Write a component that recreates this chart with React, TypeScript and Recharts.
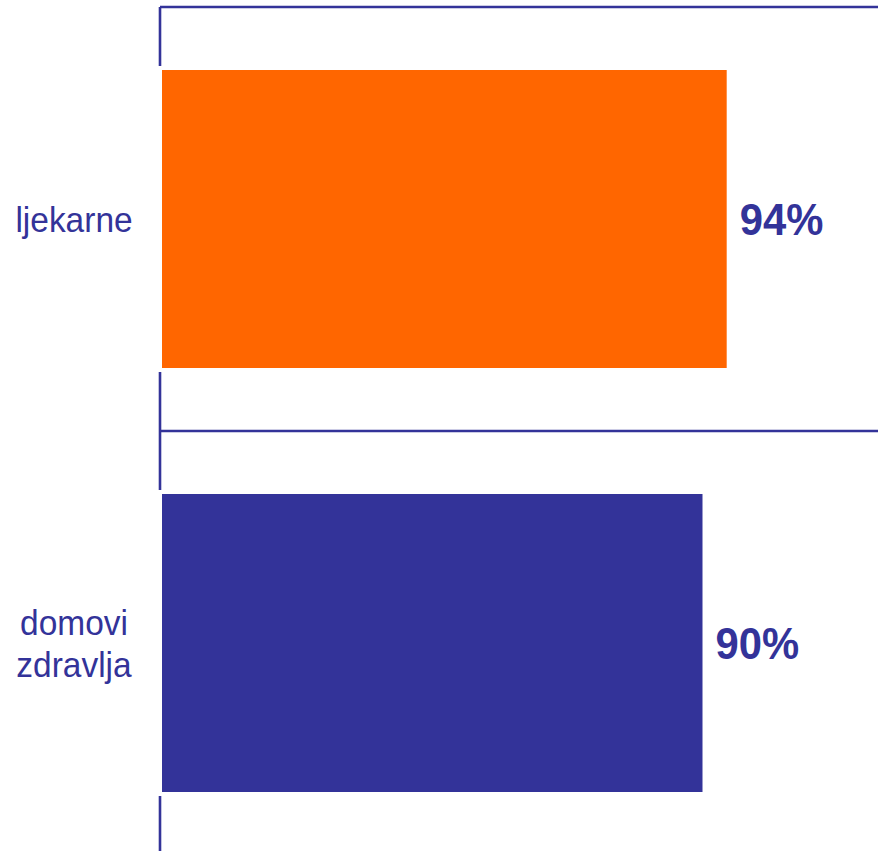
import React from "react";
import { BarChart, Bar, XAxis, YAxis, CartesianGrid, Cell, LabelList } from "recharts";

const categories = ["ljekarne", "domovi zdravlja"];
const values = [94, 90];
const valueLabels = ["94%", "90%"];
const barColors = ["#FF6600", "#333399"];
const xDomain = [0, 120];

const data = categories.map((name, i) => ({ name, value: values[i], label: valueLabels[i] }));

const TEXT_COLOR = "#333399";
const FONT = "'Liberation Sans', Arial, sans-serif";
const SX = 0.93;

const CategoryTick = (props: any) => {
  const { y, payload } = props;
  const lines: string[] = String(payload.value).split(" ");
  const n = lines.length;
  const cx = 74;
  return (
    <g>
      {lines.map((ln, i) => (
        <text
          key={i}
          transform={`translate(${cx}, ${y + 13 + (i - (n - 1) / 2) * 42}) scale(${SX}, 1)`}
          textAnchor="middle"
          fontFamily={FONT}
          fontSize={36}
          fill={TEXT_COLOR}
        >
          {ln}
        </text>
      ))}
    </g>
  );
};

const ValueLabel = (props: any) => {
  const { x, y, width, height, index } = props;
  const tx = x + width + 11;
  const ty = y + height / 2 + 15.5;
  return (
    <text
      transform={`translate(${tx}, ${ty}) scale(0.95, 1)`}
      textAnchor="start"
      fontFamily={FONT}
      fontSize={44}
      fontWeight="bold"
      fill={TEXT_COLOR}
    >
      {valueLabels[index]}
    </text>
  );
};

const gridLine = { stroke: "#333399", strokeWidth: 2.6 };

export default function App() {
  return (
    <div
      style={{
        position: "absolute",
        left: 0,
        top: 0,
        width: 878,
        height: 851,
        overflow: "hidden",
        background: "#fff",
      }}
    >
      <BarChart
        width={886}
        height={855}
        data={data}
        layout="vertical"
        margin={{ top: 7, right: 0, bottom: 0, left: 0 }}
      >
        <CartesianGrid
          stroke="#333399"
          strokeWidth={2.6}
          horizontal={gridLine}
          vertical={gridLine}
          horizontalCoordinatesGenerator={({ offset }: any) => [
            offset.top,
            offset.top + offset.height / 2,
            offset.top + offset.height,
          ]}
          verticalCoordinatesGenerator={({ offset }: any) => [offset.left]}
        />
        <XAxis type="number" domain={xDomain} hide />
        <YAxis
          type="category"
          dataKey="name"
          width={160}
          axisLine={false}
          tickLine={false}
          tick={<CategoryTick />}
          interval={0}
        />
        <Bar dataKey="value" barSize={302} stroke="#ffffff" strokeWidth={4} isAnimationActive={false}>
          {data.map((d, i) => (
            <Cell key={d.name} fill={barColors[i]} stroke="#ffffff" strokeWidth={4} />
          ))}
          <LabelList dataKey="label" content={<ValueLabel />} />
        </Bar>
      </BarChart>
    </div>
  );
}
